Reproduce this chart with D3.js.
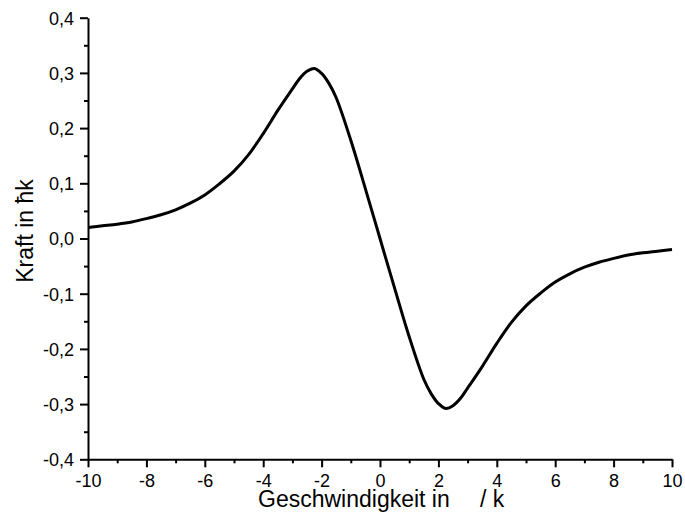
<!DOCTYPE html>
<html>
<head>
<meta charset="utf-8">
<script src="https://cdn.jsdelivr.net/npm/d3@7"></script>
<style>
  html, body { margin: 0; padding: 0; background: #fff; }
  svg { display: block; }
  text { font-family: "Liberation Sans", Arial, sans-serif; fill: #000; }
</style>
</head>
<body>
<svg id="chart" width="685" height="515"></svg>
<script>
// Geschwindigkeit (x) values
const velocity = [-10, -9.5, -9, -8.5, -8, -7.5, -7, -6.5, -6, -5.5, -5, -4.5, -4, -3.5, -3, -2.75, -2.5, -2.25, -2, -1.75, -1.5, -1, -0.5, 0,
                  0.5, 1, 1.5, 1.75, 2, 2.25, 2.5, 2.75, 3, 3.5, 4, 4.5, 5, 5.5, 6, 6.5, 7, 7.5, 8, 8.5, 9, 9.5, 10];
// Kraft (y) values
const force = [0.020, 0.023, 0.026, 0.030, 0.036, 0.043, 0.052, 0.064, 0.079, 0.099, 0.122, 0.152, 0.190, 0.232, 0.271, 0.290, 0.303, 0.308, 0.299, 0.281, 0.255, 0.178, 0.090, 0.000,
               -0.090, -0.178, -0.255, -0.281, -0.299, -0.308, -0.303, -0.290, -0.271, -0.232, -0.190, -0.152, -0.122, -0.099, -0.079, -0.064, -0.052, -0.043, -0.036, -0.030, -0.026, -0.023, -0.020];
const xMajorTicks = [-10, -8, -6, -4, -2, 0, 2, 4, 6, 8, 10];
const xMinorTicks = [-9, -7, -5, -3, -1, 1, 3, 5, 7, 9];
const yMajorTicks = [-0.4, -0.3, -0.2, -0.1, 0, 0.1, 0.2, 0.3, 0.4];
const yMinorTicks = [-0.35, -0.25, -0.15, -0.05, 0.05, 0.15, 0.25, 0.35];
const xTitleA = "Geschwindigkeit in";
const xTitleB = "/ k";
const yTitle = "Kraft in \u0127k";

const svg = d3.select("#chart");
const pLeft = 88, pRight = 672, pTop = 17.7, pBottom = 459.3;

const x = d3.scaleLinear().domain([-10, 10]).range([pLeft, pRight]);
const y = d3.scaleLinear().domain([-0.4, 0.4]).range([pBottom, pTop]);

const fmt = d => d3.format(".1f")(d).replace(".", ",").replace("\u2212", "-");
const fmtX = d => String(d).replace("\u2212", "-");

// X axis
const gx = svg.append("g").attr("transform", `translate(0,${pBottom})`);
gx.call(d3.axisBottom(x).tickValues(xMajorTicks).tickFormat(fmtX).tickSize(8).tickPadding(7).tickSizeOuter(0));
const gxm = svg.append("g").attr("transform", `translate(0,${pBottom})`);
gxm.call(d3.axisBottom(x).tickValues(xMinorTicks).tickFormat("").tickSize(4).tickSizeOuter(0));
gxm.select(".domain").remove();

// Y axis
const gy = svg.append("g").attr("transform", `translate(${pLeft},0)`);
gy.call(d3.axisLeft(y).tickValues(yMajorTicks).tickFormat(fmt).tickSize(8).tickPadding(6).tickSizeOuter(0));
const gym = svg.append("g").attr("transform", `translate(${pLeft},0)`);
gym.call(d3.axisLeft(y).tickValues(yMinorTicks).tickFormat("").tickSize(4).tickSizeOuter(0));
gym.select(".domain").remove();

svg.selectAll(".domain").attr("stroke", "#000").attr("stroke-width", 2);
svg.selectAll(".tick line").attr("stroke", "#000").attr("stroke-width", 2);
svg.selectAll(".tick text").attr("font-family", "Liberation Sans, Arial, sans-serif").attr("font-size", 18).attr("fill", "#000");
gy.selectAll(".tick text").attr("dy", "0.36em");
gx.selectAll(".tick text").attr("dy", "0.71em");

// Curve
const pts = velocity.map((v, i) => [v, force[i]]);
const line = d3.line().x(d => x(d[0])).y(d => y(d[1])).curve(d3.curveCatmullRom.alpha(0.5));
svg.append("path").datum(pts)
  .attr("d", line)
  .attr("fill", "none")
  .attr("stroke", "#000")
  .attr("stroke-width", 3)
  .attr("stroke-linejoin", "round");

// Titles
svg.append("text").attr("x", 258).attr("y", 507).attr("font-size", 23).text(xTitleA);
svg.append("text").attr("x", 480).attr("y", 507).attr("font-size", 23).text(xTitleB);
svg.append("text")
  .attr("transform", "translate(33,231) rotate(-90)")
  .attr("text-anchor", "middle")
  .attr("font-size", 23)
  .text(yTitle);
</script>
</body>
</html>
